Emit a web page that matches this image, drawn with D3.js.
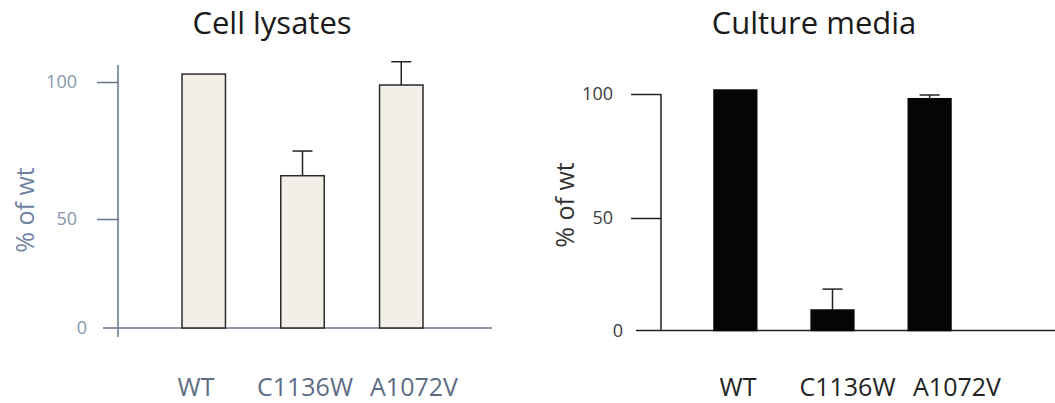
<!DOCTYPE html>
<html>
<head>
  <meta charset="utf-8">
  <script src="https://d3js.org/d3.v7.min.js"></script>
  <style>
    body { margin: 0; background: #fff; }
    * { font-family: 'Open Sans', sans-serif; }
  </style>
</head>
<body>
  <svg id="chart" width="1055" height="403"></svg>
  <script>
    // values
    const categories = ["WT", "C1136W", "A1072V"];
    const lysateMeans = [102.9, 65.8, 98.9];
    const lysateErrors = [0, 9, 8.5];
    const mediaMeans = [101.6, 9.1, 98.1];
    const mediaErrors = [0, 9.3, 1.5];
    const tickValues = [0, 50, 100];

    const svg = d3.select("#chart");

    function panel(opts) {
      const g = svg.append("g");

      // the original axis is not evenly spaced, so use a piecewise scale
      const y = d3.scaleLinear().domain([0, 50, 100]).range(opts.yRange);
      const x = d3.scaleBand().domain(categories).range(opts.xRange).paddingInner(0.56);
      const lab = d3.scalePoint().domain(categories).range(opts.labelRange);

      // title
      g.append("text")
        .attr("x", opts.titleX).attr("y", 34)
        .attr("text-anchor", "middle")
        .style("font-size", "31px")
        .style("fill", "#1a1a1a")
        .text(opts.title);

      // y axis
      const yAxis = d3.axisLeft(y).tickValues(tickValues).tickSize(opts.tickLen).tickPadding(opts.tickPad);
      const ax = g.append("g")
        .attr("transform", `translate(${opts.axisX},0)`)
        .call(yAxis);
      ax.select(".domain").remove();
      ax.selectAll(".tick line").attr("stroke", opts.axisColor).attr("stroke-width", 1.5)
        .style("display", d => d === 0 ? "none" : null);
      ax.selectAll(".tick text")
        .style("font-size", "18px")
        .style("font-family", "'Open Sans', sans-serif")
        .style("fill", opts.tickColor)
        .attr("dx", d => d === 0 ? opts.zeroShift : 0);

      g.append("line")
        .attr("x1", opts.axisX).attr("x2", opts.axisX)
        .attr("y1", opts.axisTop).attr("y2", opts.axisBottom)
        .attr("stroke", opts.axisColor).attr("stroke-width", 1.5);

      g.append("line")
        .attr("x1", opts.baseLeft).attr("x2", opts.baseRight)
        .attr("y1", y(0)).attr("y2", y(0))
        .attr("stroke", opts.axisColor).attr("stroke-width", 1.5);

      // y label
      g.append("text")
        .attr("transform", `translate(${opts.ylabX},${opts.ylabY}) rotate(-90)`)
        .attr("text-anchor", "middle")
        .attr("dominant-baseline", "central")
        .style("font-size", "25px")
        .style("fill", opts.ylabColor)
        .text("% of wt");

      // bars
      g.selectAll("rect.bar")
        .data(opts.means)
        .enter()
        .append("rect")
        .attr("class", "bar")
        .attr("x", (d, i) => x(categories[i]))
        .attr("width", x.bandwidth())
        .attr("y", d => y(d))
        .attr("height", d => y(0) - y(d))
        .attr("fill", opts.barFill)
        .attr("stroke", opts.barStroke)
        .attr("stroke-width", 1.5);

      // error bars (upper only)
      const err = g.selectAll("g.err")
        .data(opts.means.map((m, i) => ({ c: categories[i], m: m, e: opts.errors[i] })).filter(d => d.e > 0))
        .enter()
        .append("g")
        .attr("class", "err");
      err.append("line")
        .attr("x1", d => x(d.c) + x.bandwidth() / 2)
        .attr("x2", d => x(d.c) + x.bandwidth() / 2)
        .attr("y1", d => y(d.m))
        .attr("y2", d => y(d.m + d.e))
        .attr("stroke", "#222").attr("stroke-width", 1.5);
      err.append("line")
        .attr("x1", d => x(d.c) + x.bandwidth() / 2 - 10)
        .attr("x2", d => x(d.c) + x.bandwidth() / 2 + 10)
        .attr("y1", d => y(d.m + d.e))
        .attr("y2", d => y(d.m + d.e))
        .attr("stroke", "#222").attr("stroke-width", 1.5);

      // category labels
      g.selectAll("text.cat")
        .data(categories)
        .enter()
        .append("text")
        .attr("class", "cat")
        .attr("x", d => lab(d))
        .attr("y", 396)
        .attr("text-anchor", "middle")
        .style("font-size", "25px")
        .style("fill", opts.catColor)
        .text(d => d);
    }

    panel({
      title: "Cell lysates", titleX: 272,
      means: lysateMeans, errors: lysateErrors,
      yRange: [328, 219, 82], xRange: [182, 423], labelRange: [196, 414],
      axisX: 118, axisTop: 65, axisBottom: 337, baseLeft: 103, baseRight: 492,
      tickLen: 21, tickPad: 20, zeroShift: 10,
      axisColor: "#66768c", tickColor: "#8797ad", ylabColor: "#7083a0", catColor: "#5e6d83",
      ylabX: 24, ylabY: 210,
      barFill: "#f1efe8", barStroke: "#2b2b2b"
    });

    panel({
      title: "Culture media", titleX: 814,
      means: mediaMeans, errors: mediaErrors,
      yRange: [330.5, 218, 94], xRange: [714, 951], labelRange: [738, 957],
      axisX: 661, axisTop: 94, axisBottom: 330.5, baseLeft: 636, baseRight: 1055,
      tickLen: 30, tickPad: 18, zeroShift: 10,
      axisColor: "#222", tickColor: "#3c3c3c", ylabColor: "#333", catColor: "#222",
      ylabX: 564, ylabY: 205,
      barFill: "#050505", barStroke: "#050505"
    });
  </script>
</body>
</html>
